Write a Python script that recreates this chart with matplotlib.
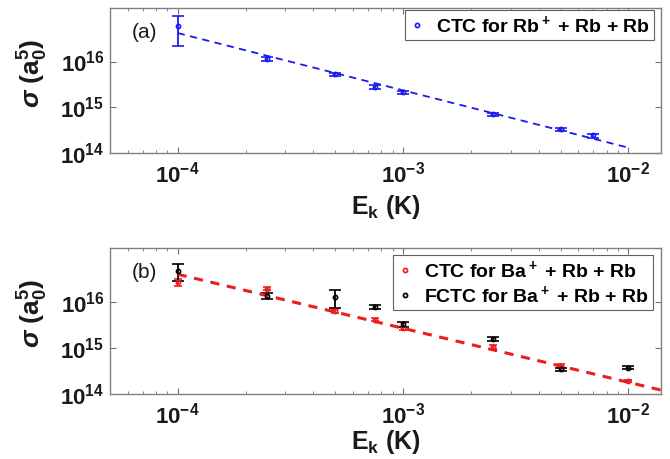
import numpy as np
import matplotlib
matplotlib.use('Agg')
import matplotlib.pyplot as plt
from matplotlib.lines import Line2D
from matplotlib.ticker import LogLocator, NullFormatter

plt.rcParams['font.family'] = ['Liberation Sans', 'DejaVu Sans']
plt.rcParams['font.weight'] = 'bold'
plt.rcParams['mathtext.fontset'] = 'custom'
plt.rcParams['mathtext.rm'] = 'Liberation Sans:bold'
plt.rcParams['mathtext.bf'] = 'Liberation Sans:bold'
plt.rcParams['mathtext.it'] = 'Liberation Sans:italic:bold'

# panel (a): CTC Rb+ + Rb + Rb
e_a = [1e-4, 2.5e-4, 5e-4, 7.5e-4, 1e-3, 2.5e-3, 5e-3, 7e-3]
sig_a = [6.1e16, 1.15e16, 5.2e15, 2.8e15, 2.1e15, 7.0e14, 3.3e14, 2.4e14]
err_a = [3.9e16, 0.12e16, 0.4e15, 0.25e15, 0.18e15, 0.5e14, 0.25e14, 0.25e14]
fit_a_x = [1e-4, 1e-2]
fit_a_y = [4.2e16, 1.3e14]

# panel (b): Ba+ + Rb + Rb
e_b = [1e-4, 2.5e-4, 5e-4, 7.5e-4, 1e-3, 2.5e-3, 5e-3, 1e-2]
ctc_b = [2.7e16, 1.95e16, 6.4e15, 4.1e15, 2.7e15, 1.05e15, 4.1e14, 1.9e14]
ctc_err = [0.5e16, 0.15e16, 0.6e15, 0.3e15, 0.2e15, 0.1e15, 0.3e14, 0.12e14]
fctc_b = [4.7e16, 1.35e16, 1.3e16, 7.9e15, 3.3e15, 1.58e15, 3.4e14, 3.7e14]
fctc_err = [1.85e16, 0.2e16, 0.55e16, 0.8e15, 0.4e15, 0.15e15, 0.25e14, 0.3e14]
fit_b_x = [1e-4, 1.4e-2]
fit_b_y = [4.0e16, 1.2e14]

xlim = (5e-5, 1.4e-2)
ylim = (1e14, 1.5e17)

fig = plt.figure(figsize=(6.7, 4.59), dpi=100)
ax1 = fig.add_axes([0.164, 0.667, 0.823, 0.316])
ax2 = fig.add_axes([0.164, 0.142, 0.823, 0.318])

blue = '#1a1aee'
red = '#ee1c1c'
txt = '#1a1a1a'

ax1.errorbar(e_a, sig_a, yerr=err_a, fmt='o', color=blue, ms=3, mfc='none',
             mew=1.2, capsize=4, elinewidth=1.3, capthick=1.3)
ax1.plot(fit_a_x, fit_a_y, '--', color=blue, lw=1.3, dashes=(4, 3))

ax2.errorbar(e_b, ctc_b, yerr=ctc_err, fmt='o', color=red, ms=3, mfc='none',
             mew=1.2, capsize=3, elinewidth=1.3, capthick=1.3)
ax2.errorbar(e_b, fctc_b, yerr=fctc_err, fmt='o', color='black', ms=3, mfc='none',
             mew=1.2, capsize=4, elinewidth=1.3, capthick=1.3)
ax2.plot(fit_b_x, fit_b_y, '--', color=red, lw=2.2, dashes=(3, 2.5))

for ax, tag, lp in [(ax1, '(a)', 4), (ax2, '(b)', 0)]:
    ax.set_xscale('log')
    ax.set_yscale('log')
    ax.set_xlim(*xlim)
    ax.set_ylim(*ylim)
    ax.set_xticks([1e-4, 1e-3, 1e-2])
    ax.set_yticks([1e14, 1e15, 1e16])
    ax.xaxis.set_minor_locator(LogLocator(base=10, subs=np.arange(2, 10)))
    ax.yaxis.set_minor_locator(LogLocator(base=10, subs=np.arange(2, 10)))
    ax.xaxis.set_minor_formatter(NullFormatter())
    ax.yaxis.set_minor_formatter(NullFormatter())
    ax.tick_params(which='both', direction='in', top=True, right=True, colors='#707070',
                   labelcolor=txt, labelsize=16)
    ax.tick_params(which='major', length=4, width=0.8)
    ax.tick_params(which='minor', length=2.5, width=0.6)
    ax.tick_params(axis='x', pad=6)
    ax.tick_params(axis='y', pad=4)
    for s in ax.spines.values():
        s.set_color('#808080')
        s.set_linewidth(1.0)
    ax.text(0.04, 0.83, tag, transform=ax.transAxes, fontsize=15, fontweight='normal',
            va='center', ha='left', color=txt)
    ax.set_xlabel(r'E$_\mathregular{k}$ (K)', fontsize=18, fontweight='bold', labelpad=lp,
                  color=txt)
    ax.set_ylabel(r'$\sigma$ (a$_\mathregular{0}^\mathregular{5}$)', fontsize=19,
                  fontweight='bold', color=txt)
    ax.yaxis.set_label_coords(-0.108, 0.55)

h1 = [Line2D([], [], ls='none', marker='o', ms=3, mfc='none', mec=blue, mew=1.2)]
leg1 = ax1.legend(h1, [r'CTC for Rb$^+$ + Rb + Rb'], loc='upper right', fontsize=14,
                  handlelength=0.8, handletextpad=0.6, borderpad=0.2, borderaxespad=0,
                  fancybox=False, edgecolor='#606060', framealpha=1,
                  bbox_to_anchor=(0.987, 0.986))
leg1.get_frame().set_linewidth(0.8)

h2 = [Line2D([], [], ls='none', marker='o', ms=3, mfc='none', mec=red, mew=1.2),
      Line2D([], [], ls='none', marker='o', ms=3, mfc='none', mec='black', mew=1.2)]
leg2 = ax2.legend(h2, [r'CTC for Ba$^+$ + Rb + Rb', r'FCTC for Ba$^+$ + Rb + Rb'],
                  loc='upper right', fontsize=14, handlelength=0.8, handletextpad=0.6,
                  borderpad=0.2, labelspacing=0.15, borderaxespad=0, fancybox=False,
                  edgecolor='#606060', framealpha=1, bbox_to_anchor=(0.985, 0.952))
leg2.get_frame().set_linewidth(0.8)

fig.savefig('out.png', dpi=100)
